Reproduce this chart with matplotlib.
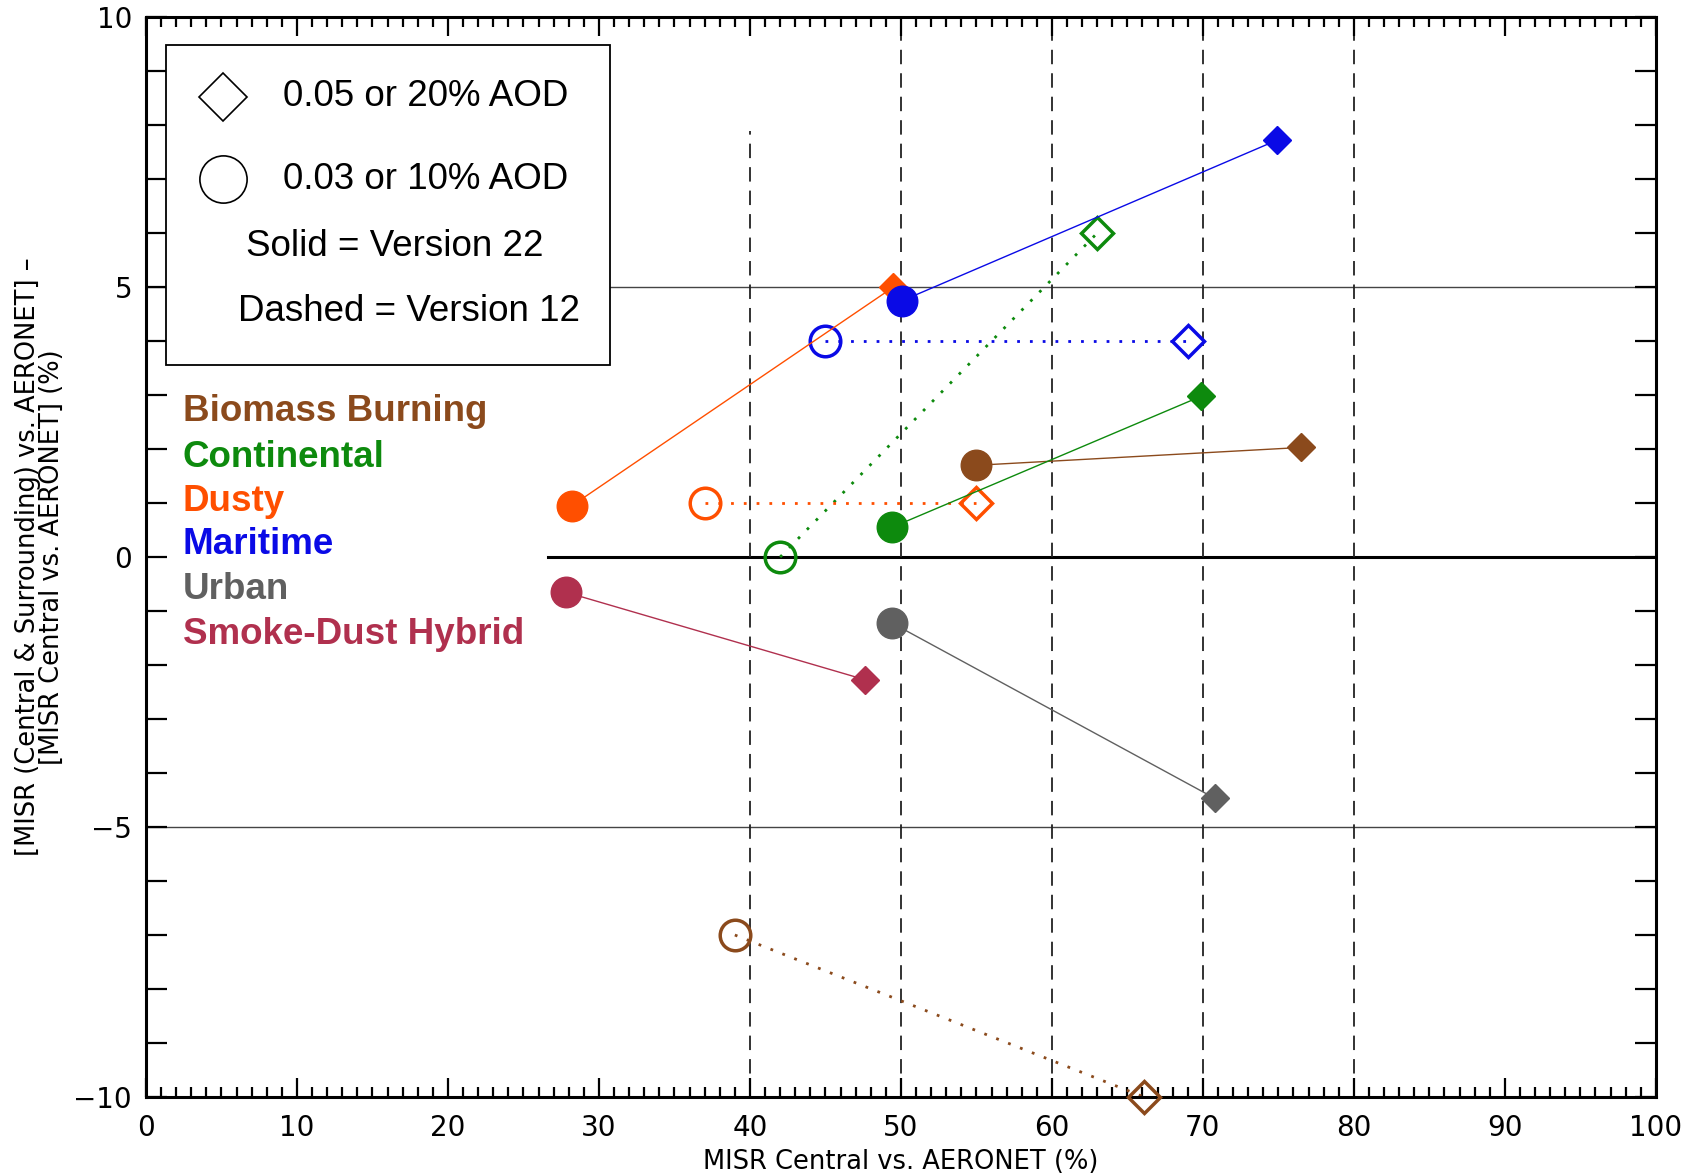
import matplotlib
matplotlib.use('Agg')
import matplotlib.pyplot as plt
from matplotlib.patches import Rectangle

# aerosol groups, version 22 (solid) and version 12 (dotted)
groups = ["Biomass Burning", "Continental", "Dusty", "Maritime", "Urban", "Smoke-Dust Hybrid"]
colors = ['#8b4a1c', '#0d8a0d', '#ff4f00', '#0a0ae6', '#606060', '#b0304e']

v22_circle_x = [55.0, 49.4, 28.2, 50.1, 49.4, 27.8]
v22_circle_y = [1.7, 0.55, 0.95, 4.75, -1.22, -0.65]
v22_diamond_x = [76.5, 69.9, 49.5, 74.9, 70.8, 47.6]
v22_diamond_y = [2.03, 2.98, 5.0, 7.72, -4.47, -2.27]

v12_groups = ["Biomass Burning", "Continental", "Dusty", "Maritime"]
v12_circle_x = [39.0, 42.0, 37.0, 45.0]
v12_circle_y = [-7.0, 0.0, 1.0, 4.0]
v12_diamond_x = [66.1, 63.0, 55.0, 69.0]
v12_diamond_y = [-10.0, 6.0, 1.0, 4.0]

legend_lines = ["0.05 or 20% AOD", "0.03 or 10% AOD", "Solid = Version 22", "Dashed = Version 12"]

fig = plt.figure(figsize=(16.86, 11.75), dpi=100)
ax = fig.add_axes([0.0866, 0.0664, 0.8955, 0.919])
ax.set_xlim(0, 100)
ax.set_ylim(-10, 10)

# reference lines
ax.axhline(5, color='#444444', lw=1.0, zorder=1)
ax.axhline(-5, color='#444444', lw=1.0, zorder=1)
ax.plot([26.6, 100], [0, 0], color='black', lw=2.2, zorder=1)
ax.plot([40, 40], [-10, 7.9], color='#222222', lw=1.3, dashes=(8, 5), zorder=1)
for xv in [50, 60, 70, 80]:
    ax.axvline(xv, color='#222222', lw=1.3, dashes=(8, 5), zorder=1)

# version 12: dotted, open markers
for i, g in enumerate(v12_groups):
    c = colors[groups.index(g)]
    ax.plot([v12_circle_x[i], v12_diamond_x[i]], [v12_circle_y[i], v12_diamond_y[i]],
            color=c, lw=2.0, linestyle=(0, (1, 3.6)), zorder=2, clip_on=False)
    ax.plot(v12_circle_x[i], v12_circle_y[i], 'o', ms=22, mfc='none', mec=c, mew=2.5,
            zorder=3, clip_on=False)
    ax.plot(v12_diamond_x[i], v12_diamond_y[i], 'D', ms=16, mfc='none', mec=c, mew=2.5,
            zorder=3, clip_on=False)

# version 22: solid, filled markers
for i, g in enumerate(groups):
    c = colors[i]
    ax.plot([v22_circle_x[i], v22_diamond_x[i]], [v22_circle_y[i], v22_diamond_y[i]],
            color=c, lw=1.0, zorder=4 + i)
    ax.plot(v22_diamond_x[i], v22_diamond_y[i], 'D', ms=14, color=c, zorder=4 + i)
    ax.plot(v22_circle_x[i], v22_circle_y[i], 'o', ms=22, color=c, zorder=4 + i)

# legend box
ax.add_patch(Rectangle((1.35, 3.55), 29.35, 5.93, facecolor='white', edgecolor='black',
                       lw=1.3, zorder=10))
ax.plot(5.1, 8.53, 'D', ms=24, mfc='none', mec='black', mew=1.2, zorder=11)
ax.plot(5.1, 7.0, 'o', ms=34, mfc='none', mec='black', mew=1.2, zorder=11)
fs = 26.5
ax.text(9.05, 8.53, legend_lines[0], fontsize=fs, family='Liberation Sans', va='center', zorder=11)
ax.text(9.05, 7.0, legend_lines[1], fontsize=fs, family='Liberation Sans', va='center', zorder=11)
ax.text(6.6, 5.76, legend_lines[2], fontsize=fs, family='Liberation Sans', va='center', zorder=11)
ax.text(6.1, 4.54, legend_lines[3], fontsize=fs, family='Liberation Sans', va='center', zorder=11)

# group names
label_y = [2.69, 1.85, 1.02, 0.24, -0.60, -1.43]
for i, g in enumerate(groups):
    ax.text(2.42, label_y[i], g, color=colors[i], fontsize=26.5, fontweight='bold',
            family='Liberation Sans', va='center', zorder=11)

# axes styling
for s in ax.spines.values():
    s.set_linewidth(2.2)
ax.set_xticks(range(0, 101, 10))
ax.set_xticks(range(0, 101, 1), minor=True)
ax.set_yticks([-10, -5, 0, 5, 10])
ax.set_yticks(range(-10, 11, 1), minor=True)
ax.tick_params(which='both', direction='in', top=True, right=True, width=1.6, labelsize=20)
ax.tick_params(axis='x', which='major', length=14, pad=12)
ax.tick_params(axis='x', which='minor', length=7)
ax.tick_params(axis='y', which='both', length=15, pad=10)

ax.set_xlabel('MISR Central vs. AERONET (%)', fontsize=18.5, labelpad=5)
ax.set_ylabel('[MISR (Central & Surrounding) vs. AERONET] \u2013\n[MISR Central vs. AERONET] (%)',
              fontsize=18.5, linespacing=0.85)
ax.yaxis.set_label_coords(-0.054, 0.5)

fig.savefig('out.png', dpi=100)
